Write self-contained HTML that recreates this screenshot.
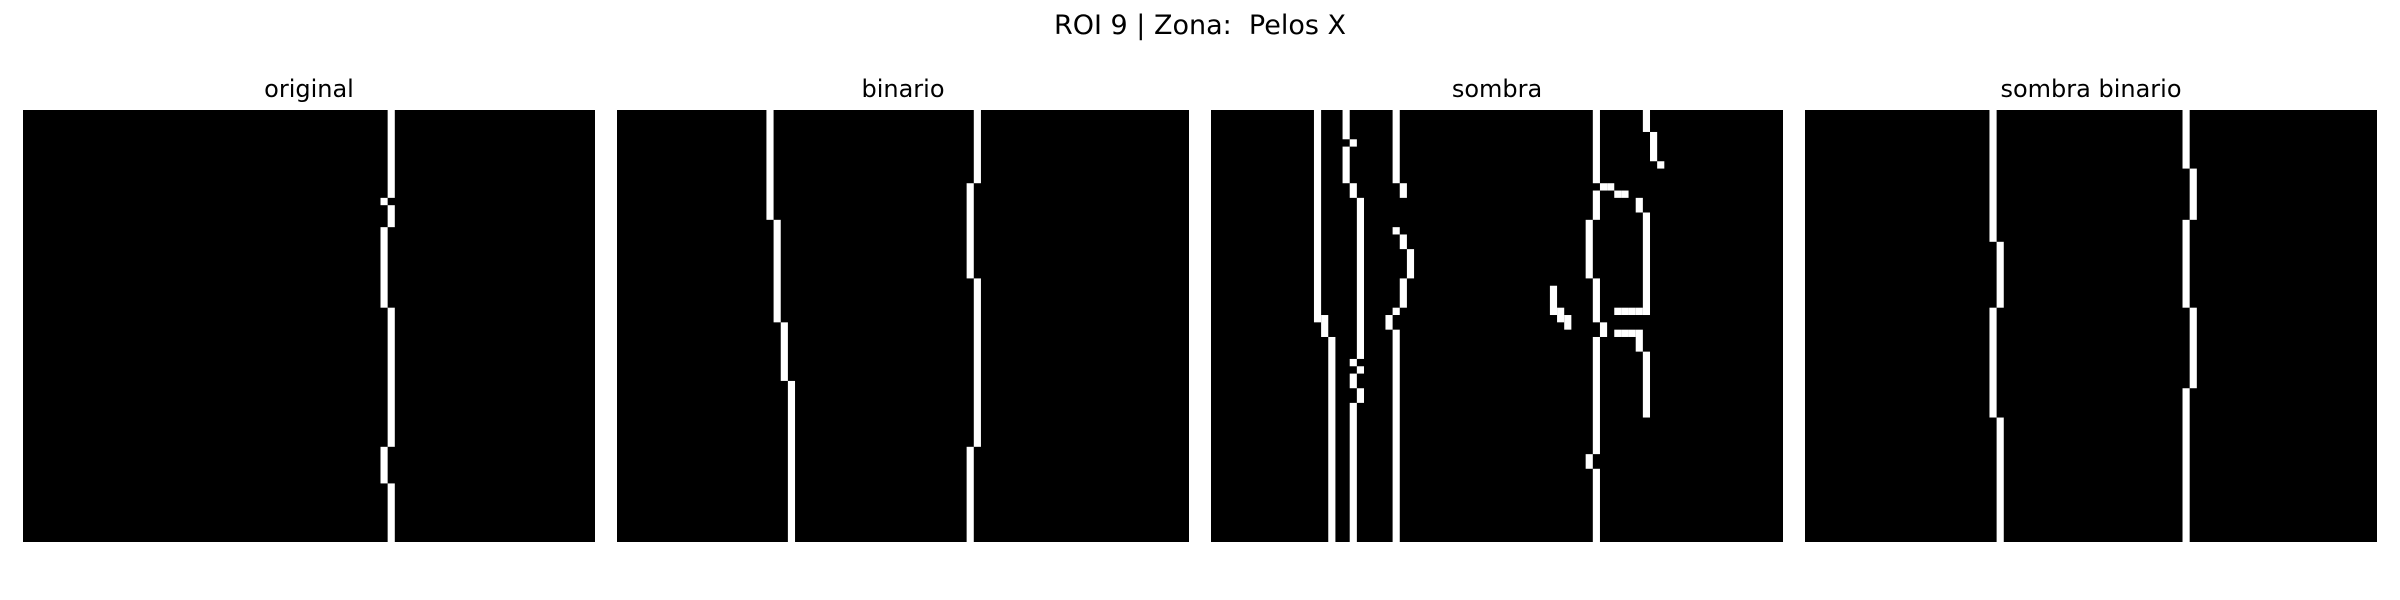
<!DOCTYPE html>
<html><head><meta charset="utf-8"><style>
html,body{margin:0;padding:0;background:#fff;}
svg{display:block;}
text{font-family:"DejaVu Sans","Liberation Sans",sans-serif;fill:#000;white-space:pre;}
</style></head><body>
<svg id="fig" width="2400" height="600" viewBox="0 0 2400 600" xmlns="http://www.w3.org/2000/svg">
<text x="1200" y="34" text-anchor="middle" font-size="27" xml:space="preserve">ROI 9 | Zona:&#160; Pelos X</text>
</svg>
<script>
// Panel titles and binary image content as segments: [column, rowStart, rowEnd)
const panelTitles = ["original", "binario", "sombra", "sombra binario"];
const gridCols = 80;
const gridRows = 59;
const segOriginal = [[51,0,12],[50,12,13],[51,13,16],[50,16,27],[51,27,46],[50,46,51],[51,51,59]];
const segBinario = [[21,0,15],[22,15,29],[23,29,37],[24,37,59],[50,0,10],[49,10,23],[50,23,46],[49,46,59]];
const segSombra = [
 [14,0,29],[15,28,31],[16,31,59],
 [18,0,4],[19,4,5],[18,5,10],[19,10,12],[20,12,34],[19,34,35],[20,35,36],[19,36,38],[20,38,40],[19,40,59],
 [25,0,10],[26,10,12],[25,16,17],[26,17,19],[27,19,23],[26,23,27],[25,27,28],[24,28,30],[25,30,59],
 [53,0,10],[54,10,11],[55,10,11],[56,11,12],[57,11,12],[53,11,15],[52,15,23],[53,23,29],[54,29,31],[53,31,47],[52,47,49],[53,49,59],
 [60,0,3],[61,3,7],[62,7,8],[59,12,14],[60,14,28],[56,27,28],[57,27,28],[58,27,28],[59,27,28],
 [56,30,31],[57,30,31],[58,30,31],[59,30,33],[60,33,42],
 [47,24,28],[48,27,29],[49,28,30]
];
const segSombraBinario = [[26,0,18],[27,18,27],[26,27,42],[27,42,59],[53,0,8],[54,8,15],[53,15,27],[54,27,38],[53,38,59]];
const panelSegs = [segOriginal, segBinario, segSombra, segSombraBinario];

const NS = "http://www.w3.org/2000/svg";
const svg = document.getElementById("fig");
const panelLeft = [23, 617, 1211, 1805];
const colShift = [0, -0.1, 0.4, -0.2];
const panelTop = 110, panelW = 572, panelH = 432;
const cw = panelW / gridCols, ch = panelH / gridRows;
const names = ["original", "binario", "sombra", "sombra-binario"];
panelTitles.forEach((t, i) => {
  const g = document.createElementNS(NS, "g");
  
  
  svg.appendChild(g);
  const tt = document.createElementNS(NS, "text");
  tt.setAttribute("x", panelLeft[i] + panelW / 2);
  tt.setAttribute("y", 97);
  tt.setAttribute("text-anchor", "middle");
  tt.setAttribute("font-size", "24");
  tt.textContent = t;
  
  
  g.appendChild(tt);
  const bg = document.createElementNS(NS, "rect");
  bg.setAttribute("x", panelLeft[i]); bg.setAttribute("y", panelTop);
  bg.setAttribute("width", panelW); bg.setAttribute("height", panelH);
  bg.setAttribute("fill", "#000");
  
  
  g.appendChild(bg);
  panelSegs[i].forEach(s => {
    const r = document.createElementNS(NS, "rect");
    r.setAttribute("x", (panelLeft[i] + (s[0] + colShift[i]) * cw).toFixed(2));
    r.setAttribute("y", (panelTop + s[1] * ch).toFixed(2));
    r.setAttribute("width", cw.toFixed(2));
    r.setAttribute("height", ((s[2] - s[1]) * ch).toFixed(2));
    r.setAttribute("fill", "#fff");
    
    
    g.appendChild(r);
  });
});
</script>
</body></html>
